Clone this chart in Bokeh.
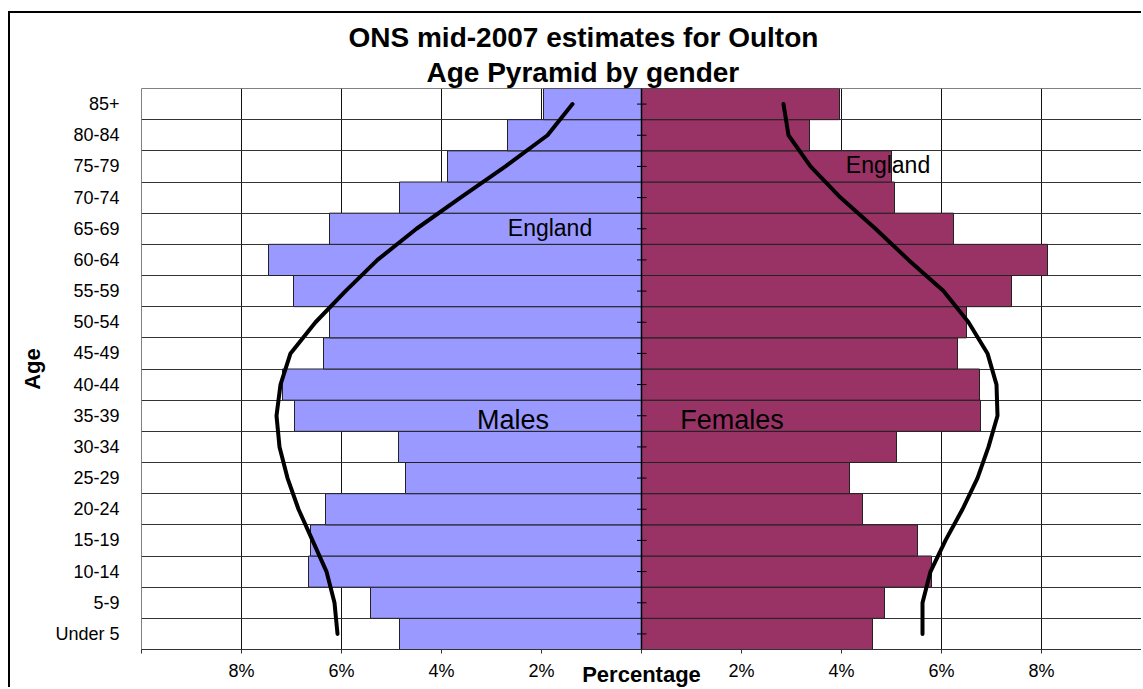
import numpy as np
from bokeh.plotting import figure
from bokeh.models import FixedTicker, Span, Range1d, Title, ColumnDataSource
from bokeh.core.properties import value
from bokeh.embed import file_html
from bokeh.resources import INLINE

# ---- data (percent of population) ----
ages = ["Under 5", "5-9", "10-14", "15-19", "20-24", "25-29", "30-34", "35-39",
        "40-44", "45-49", "50-54", "55-59", "60-64", "65-69", "70-74", "75-79",
        "80-84", "85+"]
males = [4.84, 5.42, 6.66, 6.62, 6.32, 4.72, 4.86, 6.94, 7.18, 6.36, 6.24,
         6.96, 7.46, 6.24, 4.84, 3.88, 2.68, 1.96]
females = [4.62, 4.86, 5.80, 5.52, 4.42, 4.16, 5.10, 6.78, 6.76, 6.32, 6.50,
           7.40, 8.12, 6.24, 5.06, 5.00, 3.36, 3.96]
england_m = [6.08, 6.14, 6.30, 6.58, 6.86, 7.08, 7.24, 7.30, 7.22, 7.02, 6.52,
             5.92, 5.28, 4.50, 3.62, 2.72, 1.88, 1.38]
england_f = [5.62, 5.62, 5.78, 6.08, 6.42, 6.72, 6.94, 7.12, 7.10, 6.92, 6.54,
             6.04, 5.34, 4.68, 3.98, 3.38, 2.94, 2.84]
x_ticks = [-10, -8, -6, -4, -2, 0, 2, 4, 6, 8, 10]
x_tick_labels = ["", "8%", "6%", "4%", "2%", "", "2%", "4%", "6%", "8%", ""]
title_lines = ["ONS mid-2007 estimates for Oulton", "Age Pyramid by gender"]

FONT = "Liberation Sans"
n = len(ages)
centers = np.arange(n) + 0.5

p = figure(width=1133, height=676, output_backend="svg", toolbar_location=None,
           x_range=Range1d(-10, 10), y_range=Range1d(0, n),
           min_border_left=131, min_border_right=2, min_border_top=75,
           min_border_bottom=36,
           styles={"margin-left": "8px", "margin-top": "11px",
                   "border-left": "2px solid black", "border-top": "2px solid black"})
p.background_fill_color = "white"
p.border_fill_color = "white"
p.outline_line_color = "#808080"
p.outline_line_width = 1

# titles: the figure's own title is drawn on top, the added one below it
p.title.text = title_lines[0]
p.title.text_font = FONT
p.title.text_font_size = "28px"
p.title.text_font_style = "bold"
p.title.text_color = "black"
p.title.align = "left"
p.title.offset = 207
p.title.standoff = 2
t2 = Title(text=title_lines[1], text_font=FONT, text_font_size="28px",
           text_font_style="bold", text_color="black", align="left",
           offset=285, standoff=2)
p.add_layout(t2, "above")

# grids
p.xgrid.ticker = FixedTicker(ticks=[t for t in x_ticks if abs(t) not in (0, 10)])
p.xgrid.grid_line_color = "#111111"
p.xgrid.grid_line_width = 1
p.ygrid.ticker = FixedTicker(ticks=list(range(1, n)))
p.ygrid.grid_line_color = "#333333"
p.ygrid.grid_line_width = 1

# x axis
xa = p.xaxis[0]
xa.ticker = FixedTicker(ticks=x_ticks)
xa.major_label_overrides = {t: l for t, l in zip(x_ticks, x_tick_labels)}
xa.major_label_text_font = FONT
xa.major_label_text_font_size = "18px"
xa.major_label_text_color = "black"
xa.major_label_standoff = 7
xa.major_tick_out = 4
xa.major_tick_in = 0
xa.major_tick_line_color = "#333333"
xa.minor_tick_line_color = None
xa.axis_line_color = "#333333"
xa.axis_label = "Percentage"
xa.axis_label_text_font = FONT
xa.axis_label_text_font_size = "22px"
xa.axis_label_text_font_style = "bold"
xa.axis_label_text_color = "black"
xa.axis_label_standoff = -22

# y axis (category labels)
ya = p.yaxis[0]
ya.ticker = FixedTicker(ticks=list(centers))
ya.major_label_overrides = {float(c): a for c, a in zip(centers, ages)}
ya.major_label_text_font = FONT
ya.major_label_text_font_size = "18px"
ya.major_label_text_color = "black"
ya.major_label_standoff = 16
ya.major_tick_line_color = None
ya.minor_tick_line_color = None
ya.axis_line_color = None
ya.axis_label = "Age"
ya.axis_label_text_font = FONT
ya.axis_label_text_font_size = "22px"
ya.axis_label_text_font_style = "bold"
ya.axis_label_text_color = "black"
ya.axis_label_standoff = 7

# bars
p.hbar(y=centers, left=[-m for m in males], right=0, height=1.0,
       fill_color="#9999FF", line_color="#222222", line_width=1)
p.hbar(y=centers, left=0, right=females, height=1.0,
       fill_color="#993366", line_color="#222222", line_width=1)

# central axis with cross ticks
p.add_layout(Span(location=0, dimension="height", line_color="black", line_width=1.5))
p.segment(x0=-0.09, x1=0.1, y0=centers, y1=centers, line_color="black", line_width=1)

# England curves (hand drawn)
p.line(x=[-v for v in england_m], y=centers, line_width=4, line_color="black",
       line_join="round", line_cap="round")
p.line(x=england_f, y=centers, line_width=4, line_color="black",
       line_join="round", line_cap="round")

# in-plot texts
txt_x = [-1.83, 4.93, -2.57, 1.81]
txt_y = [13.54, 15.53, 7.37, 7.36]
txt = ["England", "England", "Males", "Females"]
txt_size = ["23px", "23px", "27px", "27px"]
src = ColumnDataSource(dict(x=txt_x, y=txt_y, text=txt, size=txt_size))
p.text(x="x", y="y", text="text", source=src, text_font=value(FONT),
       text_font_size="size", text_color="black", text_align="center",
       text_baseline="middle")

open("out.html", "w").write(file_html(p, INLINE))
